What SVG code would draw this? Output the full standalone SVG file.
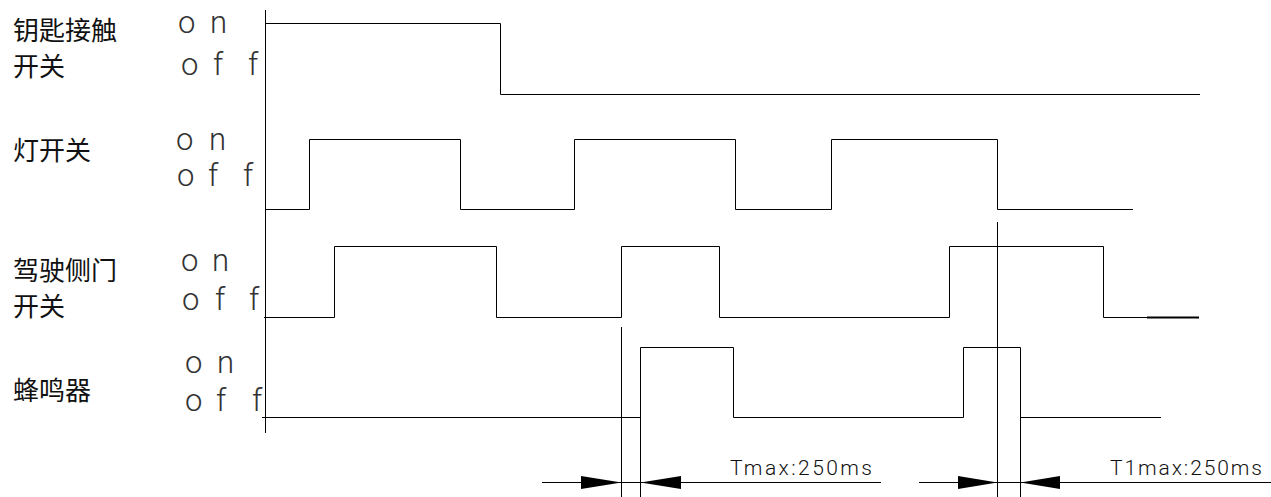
<svg xmlns="http://www.w3.org/2000/svg" width="1271" height="497" viewBox="0 0 1271 497">
<style>
.sig{fill:none;stroke:#000;stroke-width:1}
.ln{fill:none;stroke:#000;stroke-width:1}
.lbl{font-family:"Noto Sans CJK SC","Noto Sans",sans-serif;font-size:26px;fill:#111}
.cad{font-family:"Roboto","Lato","Inter",sans-serif;font-weight:300;font-size:31px;fill:#333}
.dim{font-family:"Roboto","Lato","Inter",sans-serif;font-weight:300;font-size:21px;fill:#111}
.ah{fill:#000}
</style>
<rect width="1271" height="497" fill="#fff"/>
<g id="axis"><line class="ln" x1="265.5" y1="10" x2="265.5" y2="433"/></g>
<g id="row-key">
<text class="lbl" x="13" y="40">钥匙接触</text>
<text class="lbl" x="13" y="76">开关</text>
<text class="cad" x="178 210" y="33">on</text>
<text class="cad" x="181 213 248" y="75">off</text>
<path class="sig" d="M265.5 23.5H500.5V94.5H1200"/>
</g>
<g id="row-lamp">
<text class="lbl" x="13" y="160">灯开关</text>
<text class="cad" x="176 209" y="150">on</text>
<text class="cad" x="177 208 243" y="186">off</text>
<path class="sig" d="M265 209.5H309.5V139.5H460.5V209.5H574.5V139.5H735.5V209.5H831.5V139.5H997.5V209.5H1133"/>
</g>
<g id="row-door">
<text class="lbl" x="13" y="280">驾驶侧门</text>
<text class="lbl" x="13" y="316">开关</text>
<text class="cad" x="181 212" y="270.5">on</text>
<text class="cad" x="182 215 249" y="310">off</text>
<path class="sig" d="M264 317.5H334.5V246.5H496.5V317.5H621.5V246.5H719.5V317.5H949.5V246.5H1103.5V317.5H1199"/>
<line x1="1147" y1="317.5" x2="1199" y2="317.5" stroke="#000" stroke-width="2"/>
</g>
<g id="row-buzzer">
<text class="lbl" x="13" y="400">蜂鸣器</text>
<text class="cad" x="185 217" y="373">on</text>
<text class="cad" x="185 216 252" y="411">off</text>
<path class="sig" d="M262 417.5H640.5V347.5H733.5V417.5H963.5V347.5H1020.5V417.5H1161"/>
</g>
<g id="connectors">
<line class="ln" x1="621.5" y1="327" x2="621.5" y2="497"/>
<line class="ln" x1="640.5" y1="417" x2="640.5" y2="497"/>
<line class="ln" x1="997.5" y1="222" x2="997.5" y2="497"/>
<line class="ln" x1="1020.5" y1="417" x2="1020.5" y2="497"/>
<line class="ln" x1="542" y1="482.5" x2="881" y2="482.5"/>
<line class="ln" x1="919" y1="482.5" x2="1271" y2="482.5"/>
<polygon class="ah" points="581,476 621.5,482.5 581,489"/>
<polygon class="ah" points="681,476 640.5,482.5 681,489"/>
<polygon class="ah" points="958,476 997.5,482.5 958,489"/>
<polygon class="ah" points="1060,476 1020.5,482.5 1060,489"/>
<text class="dim" x="730" y="475" textLength="142" lengthAdjust="spacing">Tmax:250ms</text>
<text class="dim" x="1110" y="475" textLength="152" lengthAdjust="spacing">T1max:250ms</text>
</g>
</svg>
